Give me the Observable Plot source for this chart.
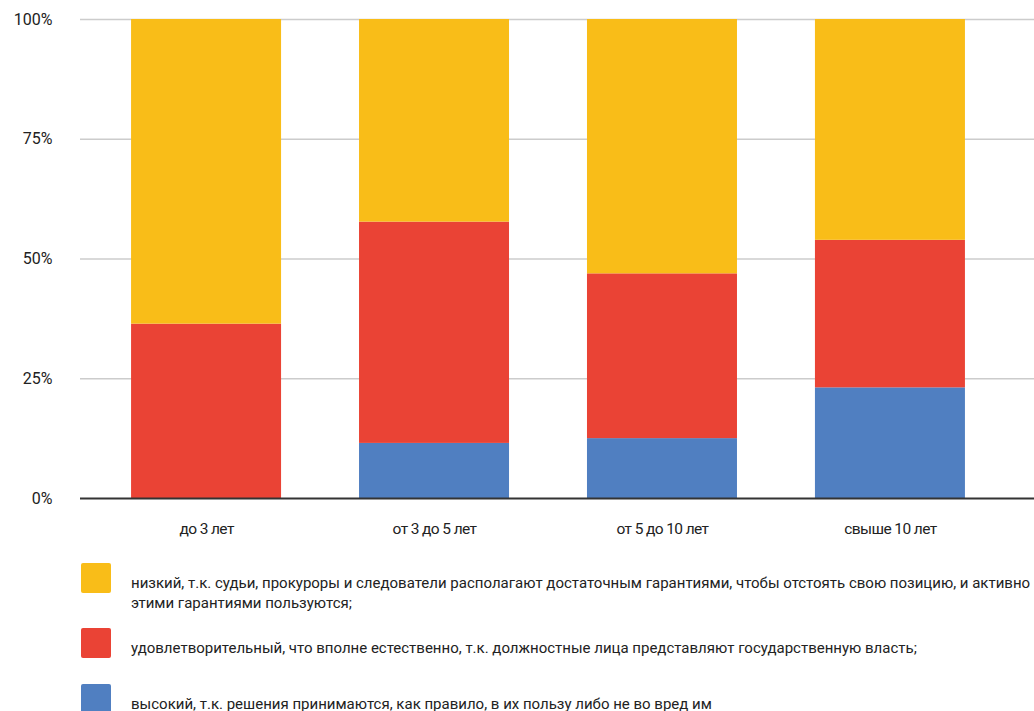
<!DOCTYPE html>
<html>
<head>
<meta charset="utf-8">
<script src="https://cdn.jsdelivr.net/npm/d3@7"></script>
<script src="https://cdn.jsdelivr.net/npm/@observablehq/plot@0.6"></script>
<style>
  html, body { margin: 0; padding: 0; background: #fff; }
  body { width: 1034px; height: 711px; overflow: hidden; font-family: Roboto, "Noto Sans", sans-serif; }
  #legend { position: relative; }
  .item { display: flex; align-items: flex-start; }
  .sw { width: 30px; height: 30px; border-radius: 2px; margin-left: 81px; flex: none; }
  .lab { margin-left: 20px; margin-top: 10px; font-size: 15px; line-height: 20px; color: #222; width: 905px; }
  g[aria-label="x-axis tick label"] text { letter-spacing: -0.6px; }
</style>
</head>
<body>
<div id="chart"></div>
<div id="legend"></div>
<script>
const categories = ["до 3 лет", "от 3 до 5 лет", "от 5 до 10 лет", "свыше 10 лет"];
const seriesNames = [
  "высокий, т.к. решения принимаются, как правило, в их пользу либо не во вред им",
  "удовлетворительный, что вполне естественно, т.к. должностные лица представляют государственную власть;",
  "низкий, т.к. судьи, прокуроры и следователи располагают достаточным гарантиями, чтобы отстоять свою позицию, и активно этими гарантиями пользуются;"
];
const highValues = [0, 11.5, 12.5, 23.1];
const satisfactoryValues = [36.4, 46.2, 34.4, 30.8];
const lowValues = [63.6, 42.3, 53.1, 46.1];
const seriesColors = ["#507FC1", "#EA4335", "#F9BD18"];
const yTicks = [0, 25, 50, 75, 100];
const legendOrder = [2, 1, 0];

const seriesValues = [highValues, satisfactoryValues, lowValues];
const data = [];
categories.forEach((c, i) => {
  seriesNames.forEach((s, j) => data.push({category: c, series: s, value: seriesValues[j][i]}));
});

const chart = Plot.plot({
  width: 1034,
  height: 545,
  marginTop: 19,
  marginBottom: 47,
  marginLeft: 80,
  marginRight: 0,
  style: {fontFamily: "Roboto, sans-serif", fontSize: "16px", color: "#222", background: "#fff"},
  x: {type: "band", domain: categories, range: [80, 1016], round: false, paddingInner: 0.342, paddingOuter: 0.224, label: null},
  y: {domain: [0, 100], label: null},
  color: {domain: seriesNames, range: seriesColors},
  marks: [
    Plot.ruleY(yTicks.filter(d => d > 0), {stroke: "#cccccc", strokeWidth: 1.6}),
    Plot.barY(data, {x: "category", y: "value", fill: "series"}),
    Plot.ruleY([0], {stroke: "#333333", strokeWidth: 2.2}),
    Plot.axisY({ticks: yTicks, tickFormat: d => d + "%", tickSize: 0, tickPadding: 28, label: null, fontSize: 16}),
    Plot.axisX({tickSize: 0, tickPadding: 24, label: null, fontSize: 15.5})
  ]
});
document.getElementById("chart").appendChild(chart);

const legend = document.getElementById("legend");
const heights = [65, 56, 40];
legendOrder.forEach((idx, k) => {
  const item = document.createElement("div");
  item.className = "item";
  item.style.height = heights[k] + "px";
  if (k === 0) item.style.marginTop = "18px";
  const sw = document.createElement("div");
  sw.className = "sw";
  sw.style.background = seriesColors[idx];
  const lab = document.createElement("div");
  lab.className = "lab";
  lab.textContent = seriesNames[idx];
  item.appendChild(sw);
  item.appendChild(lab);
  legend.appendChild(item);
});
</script>
</body>
</html>
